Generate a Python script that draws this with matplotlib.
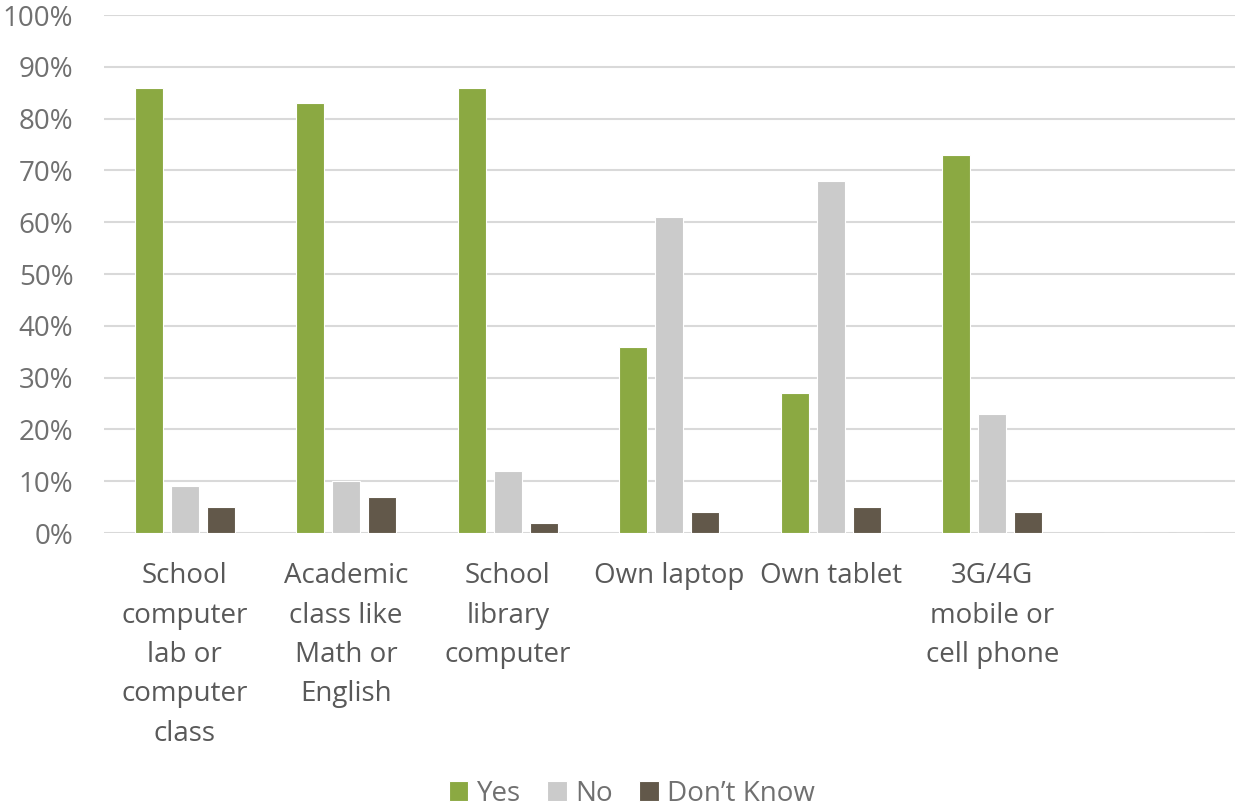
import matplotlib.pyplot as plt
import matplotlib.ticker as ticker
import numpy as np

plt.rcParams['font.family'] = ['Open Sans', 'DejaVu Sans']

# Data (percent)
categories = ['School\ncomputer\nlab or\ncomputer\nclass',
              'Academic\nclass like\nMath or\nEnglish',
              'School\nlibrary\ncomputer',
              'Own laptop',
              'Own tablet',
              '3G/4G\nmobile or\ncell phone',
              '']
yes = [86, 83, 86, 36, 27, 73, 0]
no = [9, 10, 12, 61, 68, 23, 0]
dont_know = [5, 7, 2, 4, 5, 4, 0]
series_names = ['Yes', 'No', 'Don\u2019t Know']
colors = ['#8BA942', '#CBCBCB', '#62584A']

fig = plt.figure(figsize=(12.37, 8.08), dpi=100)
ax = fig.add_axes([0.084, 0.3403, 0.914, 0.6411])

x = np.arange(len(categories))
width = 0.175
offset = 0.223
for i, (vals, name, c) in enumerate(zip([yes, no, dont_know], series_names, colors)):
    ax.bar(x + (i - 1) * offset, vals, width, color=c, label=name,
           edgecolor='white', linewidth=0.8, zorder=3)

ax.set_xlim(-0.5, len(categories) - 0.5)
ax.set_ylim(0, 100)
ax.yaxis.set_major_locator(ticker.MultipleLocator(10))
ax.yaxis.set_major_formatter(ticker.FuncFormatter(lambda v, p: '%d%%' % v))
ax.grid(axis='y', color='#D9D9D9', linewidth=1.5, zorder=0)
for s in ax.spines.values():
    s.set_visible(False)
ax.tick_params(axis='y', length=0, labelsize=20, labelcolor='#707070', pad=22)
ax.tick_params(axis='x', length=0, labelsize=20, labelcolor='#595959', pad=21)
ax.set_xticks(x)
ax.set_xticklabels(categories, linespacing=1.54)

ax.legend(loc='upper center', bbox_to_anchor=(0.467, -0.455), ncol=3, frameon=False,
          fontsize=20, labelcolor='#707070', handlelength=0.7, handleheight=0.7,
          handletextpad=0.3, columnspacing=0.95, borderaxespad=0)

fig.savefig('out.png', dpi=100)
